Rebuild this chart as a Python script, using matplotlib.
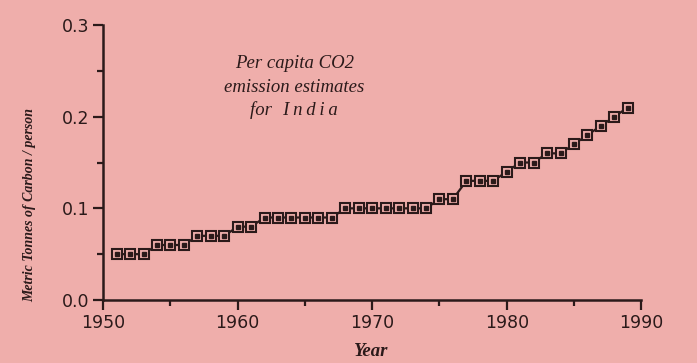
import matplotlib.pyplot as plt

years = list(range(1951, 1990))
emissions = [0.05, 0.05, 0.05, 0.06, 0.06, 0.06, 0.07, 0.07, 0.07, 0.08,
             0.08, 0.09, 0.09, 0.09, 0.09, 0.09, 0.09, 0.10, 0.10, 0.10,
             0.10, 0.10, 0.10, 0.10, 0.11, 0.11, 0.13, 0.13, 0.13, 0.14,
             0.15, 0.15, 0.16, 0.16, 0.17, 0.18, 0.19, 0.20, 0.21]

x_ticks = [1950, 1960, 1970, 1980, 1990]
y_ticks = [0.0, 0.1, 0.2, 0.3]
y_tick_labels = ['0.0', '0.1', '0.2', '0.3']

bg = '#efaeab'
ink = '#2b1a1a'

fig = plt.figure(figsize=(6.97, 3.63), dpi=100, facecolor=bg)
ax = fig.add_axes([0.148, 0.1736, 0.772, 0.7574], facecolor=bg)

ax.plot(years, emissions, color=ink, lw=1.6, marker='s', ms=7,
        mfc=bg, mec=ink, mew=1.5, zorder=3)
ax.plot(years, emissions, ls='none', marker='s', ms=2.5, color=ink, zorder=4)

ax.set_xlim(1950, 1990)
ax.set_ylim(0, 0.3)
ax.set_xticks(x_ticks)
ax.set_xticks(range(1955, 1990, 10), minor=True)
ax.set_yticks(y_ticks)
ax.set_yticklabels(y_tick_labels)
ax.set_yticks([0.05, 0.15, 0.25], minor=True)

for s in ['top', 'right']:
    ax.spines[s].set_visible(False)
for s in ['left', 'bottom']:
    ax.spines[s].set_color(ink)
    ax.spines[s].set_linewidth(1.8)

ax.tick_params(which='major', length=7, width=1.6, color=ink,
               labelsize=12.5, labelcolor=ink, pad=3)
ax.tick_params(which='minor', length=4, width=1.6, color=ink)

ax.set_xlabel('Year', fontfamily='Liberation Serif', fontstyle='italic',
              fontweight='bold', fontsize=13.5, color=ink)
ax.xaxis.set_label_coords(0.497, -0.155)
ax.set_ylabel('Metric Tonnes of Carbon / person', fontfamily='Liberation Serif',
              fontstyle='italic', fontweight='bold', fontsize=10, color=ink)
ax.yaxis.set_label_coords(-0.125, 0.345)

note_x = 1964.2
ts = '\u2009'
for y, line in [(0.258, 'Per capita CO2'),
                (0.232, 'emission estimates'),
                (0.207, 'for' + ts * 3 + ts.join('India'))]:
    ax.text(note_x, y, line, ha='center', va='center',
            fontfamily=['Liberation Serif', 'DejaVu Serif'], fontstyle='italic',
            fontsize=13.5, color=ink)

fig.savefig('out.png', dpi=100, facecolor=bg)
